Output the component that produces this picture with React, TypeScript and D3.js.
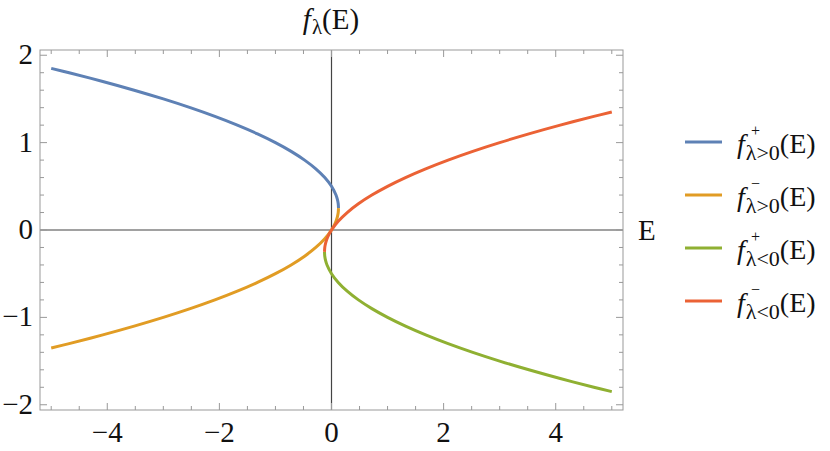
import React from "react";
import * as d3 from "d3";

// points: energy E and f value along each branch
const blueE = [0.125, 0.12, 0.105, 0.08, 0, -0.12, -0.28, -0.48, -0.72, -1, -1.32, -1.68, -2.08, -2.52, -3, -3.52, -4.08, -4.68, -5];
const blueF = [0.25, 0.3, 0.35, 0.4, 0.5, 0.6, 0.7, 0.8, 0.9, 1.0, 1.1, 1.2, 1.3, 1.4, 1.5, 1.6, 1.7, 1.8, 1.85];
const orangeE = [0.125, 0.12, 0.105, 0.08, 0.045, 0, -0.12, -0.28, -0.48, -0.72, -1, -1.32, -1.68, -2.08, -2.52, -3, -3.52, -4.08, -4.68, -5];
const orangeF = [0.25, 0.2, 0.15, 0.1, 0.05, 0, -0.1, -0.2, -0.3, -0.4, -0.5, -0.6, -0.7, -0.8, -0.9, -1.0, -1.1, -1.2, -1.3, -1.35];
const greenE = [-0.125, -0.12, -0.105, -0.08, 0, 0.12, 0.28, 0.48, 0.72, 1, 1.32, 1.68, 2.08, 2.52, 3, 3.52, 4.08, 4.68, 5];
const greenF = [-0.25, -0.3, -0.35, -0.4, -0.5, -0.6, -0.7, -0.8, -0.9, -1.0, -1.1, -1.2, -1.3, -1.4, -1.5, -1.6, -1.7, -1.8, -1.85];
const redE = [-0.125, -0.12, -0.105, -0.08, -0.045, 0, 0.12, 0.28, 0.48, 0.72, 1, 1.32, 1.68, 2.08, 2.52, 3, 3.52, 4.08, 4.68, 5];
const redF = [-0.25, -0.2, -0.15, -0.1, -0.05, 0, 0.1, 0.2, 0.3, 0.4, 0.5, 0.6, 0.7, 0.8, 0.9, 1.0, 1.1, 1.2, 1.3, 1.35];

const seriesNames = [
  { sup: "+", sub: "λ>0" },
  { sup: "−", sub: "λ>0" },
  { sup: "+", sub: "λ<0" },
  { sup: "−", sub: "λ<0" },
];
const seriesColors = ["#5E81B5", "#E19C24", "#8FB032", "#EB6235"];

const xMajor = [-4, -2, 0, 2, 4];
const yMajor = [-2, -1, 0, 1, 2];

const W = 830;
const H = 451;
const font = "Liberation Serif, Times New Roman, serif";

export default function App() {
  const x = d3.scaleLinear().domain([-5.2, 5.2]).range([40, 623]);
  const y = d3.scaleLinear().domain([-2.06, 2.06]).range([410, 50]);

  const xMinor = d3.range(-5, 5.001, 0.5).filter((v) => !xMajor.some((m) => Math.abs(m - v) < 1e-6));
  const yMinor = d3.range(-2, 2.001, 0.2).filter((v) => !yMajor.some((m) => Math.abs(m - v) < 1e-6));

  const line = d3
    .line<[number, number]>()
    .x((d) => x(d[0]))
    .y((d) => y(d[1]))
    .curve(d3.curveCatmullRom.alpha(0.5));

  const series = [
    d3.zip(blueE, blueF),
    d3.zip(orangeE, orangeF),
    d3.zip(greenE, greenF),
    d3.zip(redE, redF),
  ] as [number, number][][];

  const [x0, x1] = x.range();
  const [y0, y1] = y.range(); // y0 bottom, y1 top
  const tickColor = "#999";
  const fmt = (v: number) => (v < 0 ? "−" + Math.abs(v) : String(v));

  return (
    <svg width={W} height={H} style={{ position: "absolute", left: 0, top: 0, background: "#fff", fontFamily: font }}>
      <defs>
        <clipPath id="plotClip">
          <rect x={x0} y={y1} width={x1 - x0} height={y0 - y1} />
        </clipPath>
      </defs>

      {/* zero axes */}
      <line x1={x(0)} x2={x(0)} y1={y1} y2={y0} stroke="#444" strokeWidth={1.2} />
      <line x1={x0} x2={x1} y1={y(0)} y2={y(0)} stroke="#444" strokeWidth={1.2} />

      {/* frame */}
      <rect x={x0} y={y1} width={x1 - x0} height={y0 - y1} fill="none" stroke={tickColor} strokeWidth={1} />

      {/* x ticks, bottom and top */}
      {xMajor.map((v) => (
        <g key={"xM" + v}>
          <line x1={x(v)} x2={x(v)} y1={y0} y2={y0 - 7} stroke={tickColor} />
          <line x1={x(v)} x2={x(v)} y1={y1} y2={y1 + 7} stroke={tickColor} />
          <text x={x(v)} y={442} textAnchor="middle" fontSize={29} fill="#111">
            {fmt(v)}
          </text>
        </g>
      ))}
      {xMinor.map((v) => (
        <g key={"xm" + v}>
          <line x1={x(v)} x2={x(v)} y1={y0} y2={y0 - 4} stroke={tickColor} />
          <line x1={x(v)} x2={x(v)} y1={y1} y2={y1 + 4} stroke={tickColor} />
        </g>
      ))}

      {/* y ticks, left and right */}
      {yMajor.map((v) => (
        <g key={"yM" + v}>
          <line x1={x0} x2={x0 + 7} y1={y(v)} y2={y(v)} stroke={tickColor} />
          <line x1={x1} x2={x1 - 7} y1={y(v)} y2={y(v)} stroke={tickColor} />
          <text x={33} y={y(v) + 9} textAnchor="end" fontSize={29} fill="#111">
            {fmt(v)}
          </text>
        </g>
      ))}
      {yMinor.map((v) => (
        <g key={"ym" + v.toFixed(1)}>
          <line x1={x0} x2={x0 + 4} y1={y(v)} y2={y(v)} stroke={tickColor} />
          <line x1={x1} x2={x1 - 4} y1={y(v)} y2={y(v)} stroke={tickColor} />
        </g>
      ))}

      {/* curves */}
      <g clipPath="url(#plotClip)">
        {series.map((pts, i) => (
          <path key={i} d={line(pts) ?? ""} fill="none" stroke={seriesColors[i]} strokeWidth={3} strokeLinecap="butt" />
        ))}
      </g>

      {/* axis labels */}
      <text x={331} y={29} textAnchor="middle" fontSize={29} fill="#111">
        <tspan fontStyle="italic">f</tspan>
        <tspan fontSize={21} dy={5} dx={1}>λ</tspan>
        <tspan dy={-5}>(E)</tspan>
      </text>
      <text x={638} y={240} fontSize={29} fill="#111">E</text>

      {/* legend */}
      {seriesNames.map((s, i) => {
        const ly = 142 + i * 53;
        return (
          <g key={"lg" + i}>
            <line x1={685} x2={722} y1={ly} y2={ly} stroke={seriesColors[i]} strokeWidth={3} />
            <text x={737} y={ly + 11} fontSize={28} fill="#111">
              <tspan fontStyle="italic">f</tspan>
              <tspan fontSize={22} dy={7} dx={1}>{s.sub}</tspan>
              <tspan dy={-7}>(E)</tspan>
            </text>
            <text x={751} y={ly - 6} fontSize={16} fill="#111">{s.sup}</text>
          </g>
        );
      })}
    </svg>
  );
}
